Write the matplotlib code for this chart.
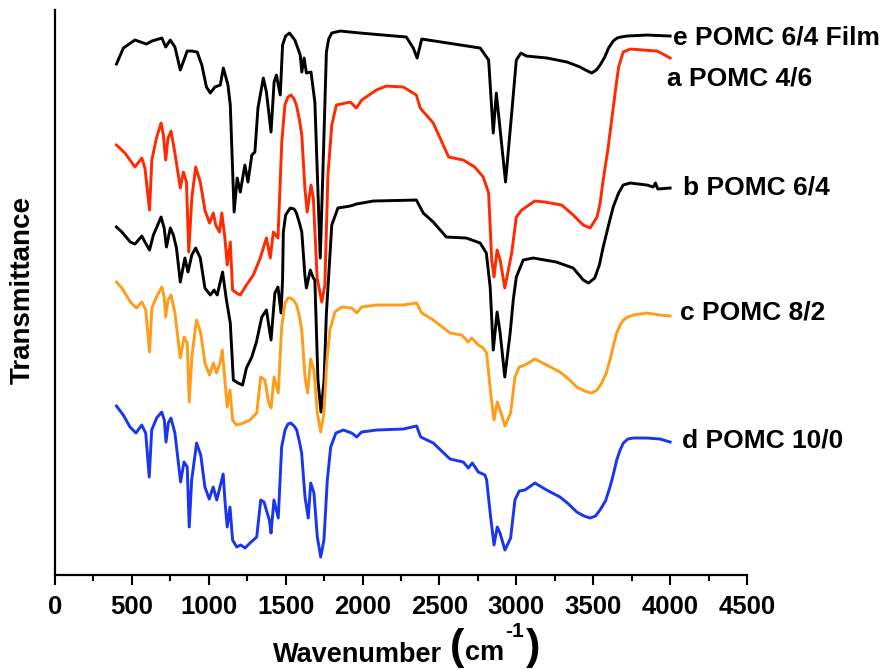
"""FTIR spectra of POMC samples, stacked transmittance traces."""

import matplotlib
matplotlib.use('Agg')
import matplotlib.pyplot as plt
from matplotlib.ticker import MultipleLocator

plt.rcParams['font.family'] = ['Liberation Sans', 'DejaVu Sans']
plt.rcParams['font.weight'] = 'bold'

# Wavenumber (cm-1) and stacked transmittance (a.u.) for each sample
wn_e = [400, 445, 520, 595, 630, 695, 720, 750, 780, 815, 860, 890, 925, 955, 985,
        1010, 1040, 1075, 1095, 1125, 1140, 1165, 1185, 1205, 1235, 1255, 1280, 1300,
        1320, 1355, 1375, 1405, 1425, 1440, 1465, 1480, 1500, 1525, 1560, 1595, 1605,
        1620, 1635, 1665, 1690, 1725, 1745, 1765, 1780, 1800, 1855, 1985, 2285, 2330,
        2355, 2385, 2765, 2820, 2850, 2870, 2895, 2930, 2970, 3000, 3030, 3065, 3200,
        3330, 3415, 3450, 3490, 3520, 3545, 3575, 3600, 3630, 3655, 3680, 3720, 3850,
        4000]
t_e = [511, 527, 535, 531, 534, 537, 528, 535, 528, 505, 524, 524, 523, 510, 488,
       482, 488, 490, 507, 490, 470, 363, 397, 383, 410, 393, 420, 423,
       467, 497, 483, 443, 493, 500, 480, 530, 539, 542, 535, 520, 503,
       517, 502, 503, 473, 317, 417, 523, 536, 542, 544, 542, 538, 527,
       517, 536, 527, 515, 442, 482, 445, 393, 462, 515, 522, 519, 517,
       513, 508, 505, 502, 505, 510, 518, 527, 534, 537, 538, 539, 540,
       539]

wn_a = [400, 455, 520, 565, 585, 615, 630, 660, 690, 705, 720, 735, 755, 780, 815,
        835, 855, 870, 890, 915, 945, 975, 1005, 1030, 1045, 1070, 1085, 1105, 1120,
        1140, 1155, 1180, 1205, 1245, 1290, 1335, 1375, 1400, 1420, 1450, 1475, 1495,
        1515, 1535, 1555, 1570, 1590, 1605, 1625, 1640, 1665, 1680, 1705, 1735, 1755,
        1775, 1800, 1830, 1920, 1960, 1995, 2090, 2155, 2265, 2350, 2375, 2460, 2560,
        2655, 2730, 2785, 2820, 2840, 2855, 2875, 2895, 2925, 2970, 3000, 3035, 3120,
        3185, 3295, 3370, 3435, 3480, 3525, 3545, 3565, 3595, 3620, 3645, 3665, 3695,
        3740, 3915, 3965, 4000]
t_a = [430, 422, 408, 417, 407, 365, 415, 437, 452, 440, 415, 437, 444, 422, 387,
       403, 393, 323, 377, 408, 393, 365, 352, 362, 350, 343, 362, 337, 310,
       333, 285, 282, 280, 290, 300, 317, 337, 317, 343, 337, 433, 470,
       478, 480, 476, 470, 455, 440, 387, 363, 390, 377, 297, 273, 290,
       400, 450, 470, 473, 467, 475, 485, 489, 488, 480, 467, 452, 418,
       415, 408, 398, 382, 315, 298, 325, 315, 287, 322, 358, 365, 374,
       373, 370, 360, 350, 347, 358, 372, 395, 425, 455, 485, 508, 523,
       526, 524, 520, 517]

wn_b = [400, 435, 490, 520, 565, 585, 615, 640, 690, 710, 725, 750, 770, 790, 815,
        845, 865, 890, 915, 945, 975, 1010, 1035, 1055, 1090, 1115, 1140, 1160, 1190,
        1220, 1245, 1280, 1310, 1345, 1375, 1405, 1430, 1450, 1470, 1480, 1485, 1500,
        1530, 1555, 1570, 1590, 1605, 1625, 1635, 1660, 1680, 1690, 1710, 1730, 1750,
        1765, 1800, 1840, 1920, 1960, 2070, 2350, 2395, 2460, 2545, 2675, 2765, 2805,
        2830, 2850, 2875, 2895, 2925, 2960, 2980, 3000, 3045, 3110, 3260, 3370, 3435,
        3470, 3510, 3540, 3565, 3600, 3630, 3665, 3695, 3740, 3850, 3890, 3905, 3920,
        4000]
t_b = [348, 343, 333, 331, 339, 333, 325, 340, 358, 347, 328, 347, 340, 327, 293,
       317, 303, 320, 327, 317, 287, 280, 285, 280, 303, 275, 252, 195, 192,
       190, 207, 218, 233, 258, 265, 235, 282, 288, 262, 295, 343, 360,
       367, 366, 362, 352, 343, 300, 287, 305, 297, 295, 195, 163, 195,
       262, 350, 367, 369, 371, 374, 375, 362, 353, 338, 337, 332, 322,
       288, 225, 263, 242, 198, 242, 275, 298, 315, 317, 313, 307, 295,
       292, 297, 310, 328, 350, 368, 382, 390, 392, 390, 388, 392, 386,
       387]

wn_c = [400, 435, 490, 530, 565, 590, 615, 630, 660, 695, 710, 720, 735, 755, 780,
        815, 840, 860, 873, 890, 920, 948, 975, 1005, 1030, 1050, 1073, 1088, 1105,
        1120, 1138, 1155, 1180, 1225, 1268, 1312, 1338, 1365, 1390, 1405, 1425, 1452,
        1474, 1496, 1515, 1533, 1555, 1572, 1590, 1605, 1626, 1643, 1663, 1684, 1706,
        1728, 1749, 1767, 1788, 1820, 1865, 1930, 1962, 1994, 2092, 2265, 2352, 2385,
        2460, 2570, 2645, 2688, 2710, 2753, 2785, 2807, 2833, 2855, 2876, 2894, 2926,
        2963, 2991, 3019, 3056, 3121, 3197, 3284, 3340, 3393, 3445, 3490, 3525, 3555,
        3585, 3609, 3632, 3653, 3675, 3696, 3725, 3761, 3848, 3934, 4000]
t_c = [293, 287, 273, 267, 273, 265, 223, 267, 278, 288, 278, 258, 275, 280, 262,
       217, 238, 232, 173, 218, 255, 242, 212, 200, 212, 202, 212, 225, 195,
       168, 185, 155, 150, 152, 155, 162, 198, 195, 172, 167, 198, 182,
       248, 272, 277, 277, 274, 270, 258, 245, 198, 182, 216, 205, 162,
       143, 162, 212, 245, 263, 268, 267, 262, 268, 270, 270, 272, 262,
       255, 242, 240, 233, 237, 230, 227, 222, 182, 155, 173, 165, 149,
       162, 198, 208, 210, 216, 210, 203, 196, 188, 184, 182, 185, 192,
       202, 215, 230, 242, 250, 255, 258, 260, 262, 260, 259]

wn_d = [400, 444, 488, 527, 564, 590, 613, 629, 661, 694, 711, 722, 737, 754, 780,
        817, 839, 860, 873, 889, 921, 948, 975, 1003, 1029, 1052, 1073, 1094, 1105,
        1120, 1138, 1155, 1182, 1208, 1236, 1268, 1312, 1338, 1359, 1394, 1405, 1424,
        1452, 1474, 1496, 1515, 1533, 1555, 1572, 1590, 1604, 1626, 1647, 1663, 1684,
        1706, 1728, 1749, 1771, 1793, 1827, 1875, 1929, 1962, 1994, 2092, 2265, 2352,
        2378, 2460, 2569, 2655, 2688, 2714, 2753, 2796, 2807, 2833, 2855, 2876, 2894,
        2926, 2963, 2991, 3019, 3056, 3121, 3197, 3284, 3340, 3393, 3440, 3479, 3515,
        3544, 3580, 3609, 3630, 3653, 3675, 3696, 3725, 3761, 3848, 3934, 4000]
t_d = [169, 160, 148, 142, 150, 142, 98, 145, 157, 163, 155, 133, 152, 157, 142,
       93, 113, 108, 48, 95, 132, 120, 88, 76, 88, 75, 88, 101, 75,
       48, 68, 35, 28, 30, 27, 32, 38, 75, 73, 55, 42, 75,
       57, 128, 145, 151, 152, 149, 145, 133, 122, 78, 57, 92, 82,
       38, 18, 35, 95, 128, 142, 145, 142, 138, 143, 145, 146, 149,
       138, 132, 116, 113, 107, 112, 103, 100, 95, 58, 30, 48, 42,
       25, 37, 75, 84, 85, 92, 85, 78, 71, 63, 59, 57, 59,
       65, 74, 88, 100, 115, 125, 132, 136, 137, 137, 136, 133]

series = [
    (wn_e, t_e, "#000000", "e POMC 6/4 Film", (4019, 538)),
    (wn_a, t_a, "#ff2a00", "a POMC 4/6", (3978, 497)),
    (wn_b, t_b, "#000000", "b POMC 6/4", (4084, 388)),
    (wn_c, t_c, "#ff9c1a", "c POMC 8/2", (4064, 263)),
    (wn_d, t_d, "#1a35f0", "d POMC 10/0", (4075, 135)),
]

fig = plt.figure(figsize=(8.88, 6.69), dpi=100)
ax = fig.add_axes([0.0619, 0.1405, 0.7793, 0.8445])

for wn, t, color, label, (lx, ly) in series:
    ax.plot(wn, t, color=color, linewidth=2.1, solid_joinstyle='round')
    ax.text(lx, ly, label, fontsize=19, fontweight='bold', ha='left',
            va='center', color='black', clip_on=False)

ax.set_xlim(0, 4500)
ax.set_ylim(0, 565)
ax.xaxis.set_major_locator(MultipleLocator(500))
ax.xaxis.set_minor_locator(MultipleLocator(250))
ax.set_yticks([])

ax.tick_params(axis='x', which='major', direction='out', length=7.5, width=1.5,
               labelsize=18.5, pad=7)
ax.tick_params(axis='x', which='minor', direction='out', length=4.5, width=1.5)
for lbl in ax.get_xticklabels():
    lbl.set_fontweight('bold')

for spine in ['top', 'right']:
    ax.spines[spine].set_visible(False)
for spine in ['bottom', 'left']:
    ax.spines[spine].set_linewidth(1.6)

# Axis titles, with the oversized parentheses around the unit
fig.text(23 / 888, 1 - 290 / 669, "Transmittance", rotation=90, fontsize=20,
         fontweight='bold', ha='center', va='center')
fig.text(273 / 888, 1 - 662 / 669, "Wavenumber", fontsize=19.5,
         fontweight='bold', ha='left', va='baseline')
fig.text(450 / 888, 1 - 659 / 669, "(", fontsize=31, fontweight='bold',
         ha='left', va='baseline')
fig.text(465 / 888, 1 - 660 / 669, "cm", fontsize=19.5, fontweight='bold',
         ha='left', va='baseline')
fig.text(505 / 888, 1 - 637 / 669, "-1", fontsize=15, fontweight='bold',
         ha='left', va='baseline')
fig.text(526 / 888, 1 - 659 / 669, ")", fontsize=31, fontweight='bold',
         ha='left', va='baseline')

fig.savefig("out.png", dpi=100, facecolor='white')
